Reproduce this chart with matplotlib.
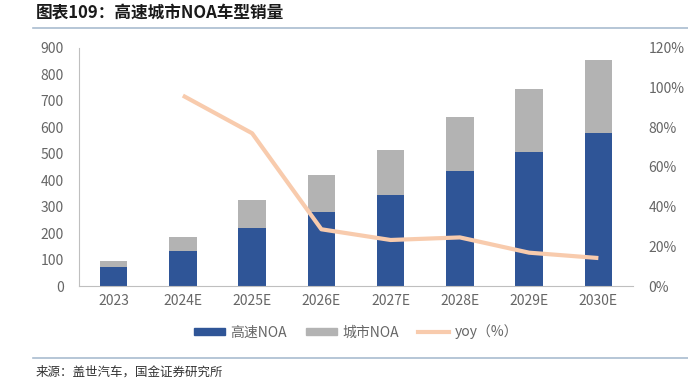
import matplotlib.pyplot as plt
from matplotlib.lines import Line2D
from matplotlib.patches import Patch
import numpy as np

plt.rcParams['font.family'] = ['Noto Sans CJK SC', 'DejaVu Sans']

years = ['2023', '2024E', '2025E', '2026E', '2027E', '2028E', '2029E', '2030E']
highway_noa = [71, 132, 218, 280, 345, 436, 508, 579]
city_noa = [25, 53, 108, 140, 171, 204, 238, 275]
yoy = [None, 96, 77, 28.6, 23.2, 24.5, 16.8, 14.1]

blue = '#2F5597'
gray = '#B3B3B3'
peach = '#F8CBAD'
axis_gray = '#BFBFBF'
txt = '#666666'

fig = plt.figure(figsize=(6.88, 3.82), dpi=100)
ax = fig.add_axes([79 / 688, 1 - 286 / 382, (633 - 79) / 688, (286 - 48) / 382])

x = np.arange(len(years))
ax.bar(x, highway_noa, width=0.4, color=blue, zorder=2)
ax.bar(x, city_noa, width=0.4, bottom=highway_noa, color=gray, zorder=2)
ax.set_xlim(-0.5, len(years) - 0.5)
ax.set_ylim(0, 900)
ax.set_yticks(range(0, 901, 100))
ax.set_xticks(x)
ax.set_xticklabels(years)

ax2 = ax.twinx()
yx = [i for i, v in enumerate(yoy) if v is not None]
yv = [v for v in yoy if v is not None]
ax2.plot(yx, yv, color=peach, lw=3, solid_capstyle='butt', zorder=3)
ax2.set_ylim(0, 120)
ax2.set_yticks(range(0, 121, 20))
ax2.set_yticklabels([f'{v}%' for v in range(0, 121, 20)])

for a in (ax, ax2):
    for s in a.spines.values():
        s.set_visible(False)
    a.tick_params(length=0, labelsize=10, labelcolor=txt)
ax.spines['left'].set_visible(True)
ax.spines['left'].set_color(axis_gray)
ax.spines['bottom'].set_visible(True)
ax.spines['bottom'].set_color(axis_gray)
ax.tick_params(axis='y', pad=11)
ax.tick_params(axis='x', pad=6)
ax2.tick_params(axis='y', pad=11)

handles = [Patch(color=blue), Patch(color=gray), Line2D([], [], color=peach, lw=3)]
fig.legend(handles, ['高速NOA', '城市NOA', 'yoy（%）'], loc='center',
           bbox_to_anchor=(356 / 688, 1 - 332 / 382), ncol=3, frameon=False,
           fontsize=10, labelcolor=txt, handlelength=2.2, handleheight=0.5,
           columnspacing=1.4, handletextpad=0.4)

fig.text(36 / 688, 1 - 13 / 382, '图表109：高速城市NOA车型销量', fontsize=12,
         fontweight='bold', style='italic', color='#1a1a1a', va='center')
fig.add_artist(Line2D([33 / 688, 1], [1 - 28 / 382] * 2, color='#A9BCD0', lw=1.2))
fig.add_artist(Line2D([33 / 688, 1], [1 - 358 / 382] * 2, color='#A9BCD0', lw=1.2))
fig.text(36 / 688, 1 - 372 / 382, '来源：盖世汽车，国金证券研究所', fontsize=9,
         color='#333333', va='center')

fig.savefig('out.png', dpi=100)
